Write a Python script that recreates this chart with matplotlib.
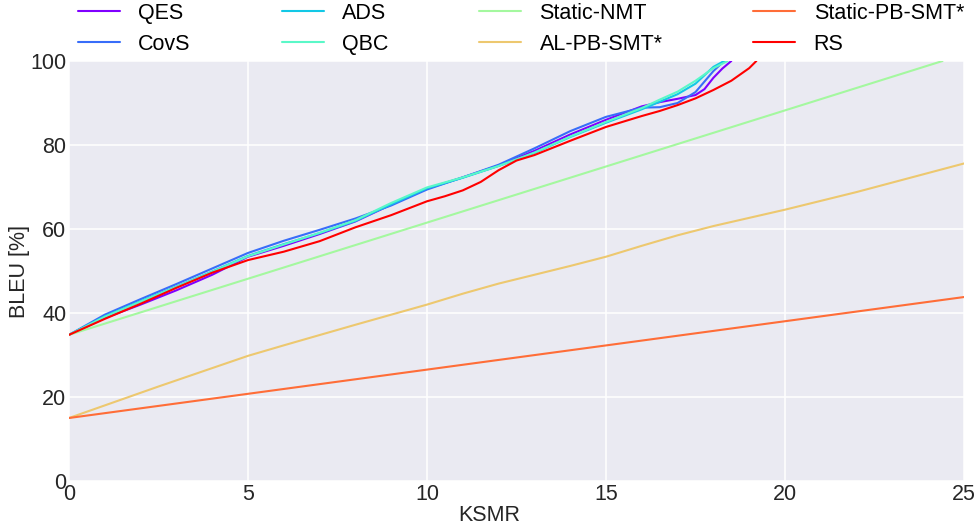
import numpy as np
import matplotlib
matplotlib.use("Agg")
import matplotlib.pyplot as plt

plt.rcParams['font.family'] = ['Liberation Sans', 'DejaVu Sans']

labels = ["QES", "CovS", "ADS", "QBC", "Static-NMT", "AL-PB-SMT*", "Static-PB-SMT*", "RS"]

qes_x = [0, 1, 2, 3, 4, 5, 6, 7, 8, 9, 10, 11, 12, 13, 14, 15, 16, 16.5, 17, 17.5, 17.75, 18, 18.25, 18.5]
qes_y = [34.8, 38.8, 42.0, 45.4, 49.1, 53.4, 56.0, 58.8, 61.8, 65.8, 69.6, 72.3, 75.1, 78.6, 82.5, 86.0, 89.2, 90.2, 91.0, 91.9, 93.3, 96.0, 98.2, 100]

covs_x = [0, 1, 2, 3, 4, 5, 6, 7, 8, 9, 10, 11, 12, 13, 14, 15, 16, 16.5, 17, 17.5, 18, 18.3]
covs_y = [34.8, 39.6, 43.3, 46.9, 50.6, 54.3, 57.2, 59.8, 62.5, 65.6, 69.4, 72.3, 75.3, 79.2, 83.3, 86.7, 88.9, 89.0, 90.0, 92.6, 97.6, 100]

ads_x = [0, 1, 2, 3, 4, 5, 6, 7, 8, 9, 10, 11, 12, 13, 14, 15, 16, 16.5, 17, 17.5, 18, 18.3]
ads_y = [34.8, 39.2, 42.8, 46.3, 49.9, 53.6, 56.4, 59.0, 61.9, 65.9, 69.7, 72.2, 75.0, 78.1, 81.9, 85.3, 88.5, 90.3, 92.1, 94.6, 98.6, 100]

qbc_x = [0, 1, 2, 3, 4, 5, 6, 7, 8, 9, 10, 11, 12, 13, 14, 15, 16, 16.5, 17, 17.5, 18, 18.4]
qbc_y = [34.8, 39.1, 42.7, 46.2, 49.8, 53.5, 56.3, 59.1, 62.1, 66.2, 69.9, 72.3, 75.0, 78.2, 82.0, 85.5, 88.8, 90.8, 92.7, 95.3, 98.3, 100]

nmt_x = [0, 24.4]
nmt_y = [34.8, 100]

alpb_x = [0, 2.5, 5, 6, 8, 10, 11, 12, 13, 14, 15, 16, 17, 18, 20, 22, 25]
alpb_y = [15, 22.5, 29.8, 32.3, 37.2, 42.0, 44.6, 47.0, 49.1, 51.2, 53.4, 56.0, 58.5, 60.7, 64.6, 68.8, 75.6]

pbsmt_x = [0, 25]
pbsmt_y = [15, 43.8]

rs_x = [0, 1, 2, 3, 4, 5, 6, 7, 8, 9, 10, 10.5, 11, 11.5, 12, 12.5, 13, 14, 15, 16, 16.5, 17, 17.5, 18, 18.5, 19, 19.2]
rs_y = [34.8, 38.6, 42.2, 46.0, 49.6, 52.6, 54.6, 57.1, 60.4, 63.3, 66.6, 67.8, 69.2, 71.2, 74.0, 76.3, 77.6, 81.0, 84.3, 86.9, 88.1, 89.5, 91.1, 93.1, 95.3, 98.3, 100]

series = [(qes_x, qes_y), (covs_x, covs_y), (ads_x, ads_y), (qbc_x, qbc_y),
          (nmt_x, nmt_y), (alpb_x, alpb_y), (pbsmt_x, pbsmt_y), (rs_x, rs_y)]

xticks = [0, 5, 10, 15, 20, 25]
yticks = [0, 20, 40, 60, 80, 100]

colors = plt.cm.rainbow(np.linspace(0, 1, len(labels)))

FS = 15.5

fig = plt.figure(figsize=(9.8, 5.27), dpi=100)
ax = fig.add_axes([69/980, 1-481/527, (964-69)/980, (481-61)/527])
ax.set_facecolor('#EAEAF2')
for s in ax.spines.values():
    s.set_visible(False)
ax.grid(True, color='white', linewidth=1.1)
ax.set_axisbelow(True)

handles = []
for (xs, ys), lab, c in zip(series, labels, colors):
    h, = ax.plot(xs, ys, color=c, linewidth=1.5, label=lab,
                 solid_capstyle='round', solid_joinstyle='round')
    handles.append(h)

ax.set_xlim(0, 25)
ax.set_ylim(0, 100)
ax.set_xticks(xticks)
ax.set_yticks(yticks)
ax.tick_params(length=0, labelsize=FS, colors='#262626', pad=2)
ax.set_xlabel("KSMR", fontsize=FS, color='#262626', labelpad=2)
ax.xaxis.set_label_coords((489-69)/895, -0.058, transform=ax.transAxes)
ax.xaxis.label.set_verticalalignment('top')
ax.set_ylabel("BLEU [%]", fontsize=FS, color='#262626', labelpad=0)

fig.legend(handles, labels, ncol=4, mode='expand', loc='upper left',
           bbox_to_anchor=(78/980, 1-3/527, 886/980, 0.0), frameon=False,
           fontsize=FS, borderpad=0, borderaxespad=0, handlelength=1.95,
           handletextpad=0.85, labelspacing=0.45)

fig.savefig("out.png", dpi=100, facecolor='white')
